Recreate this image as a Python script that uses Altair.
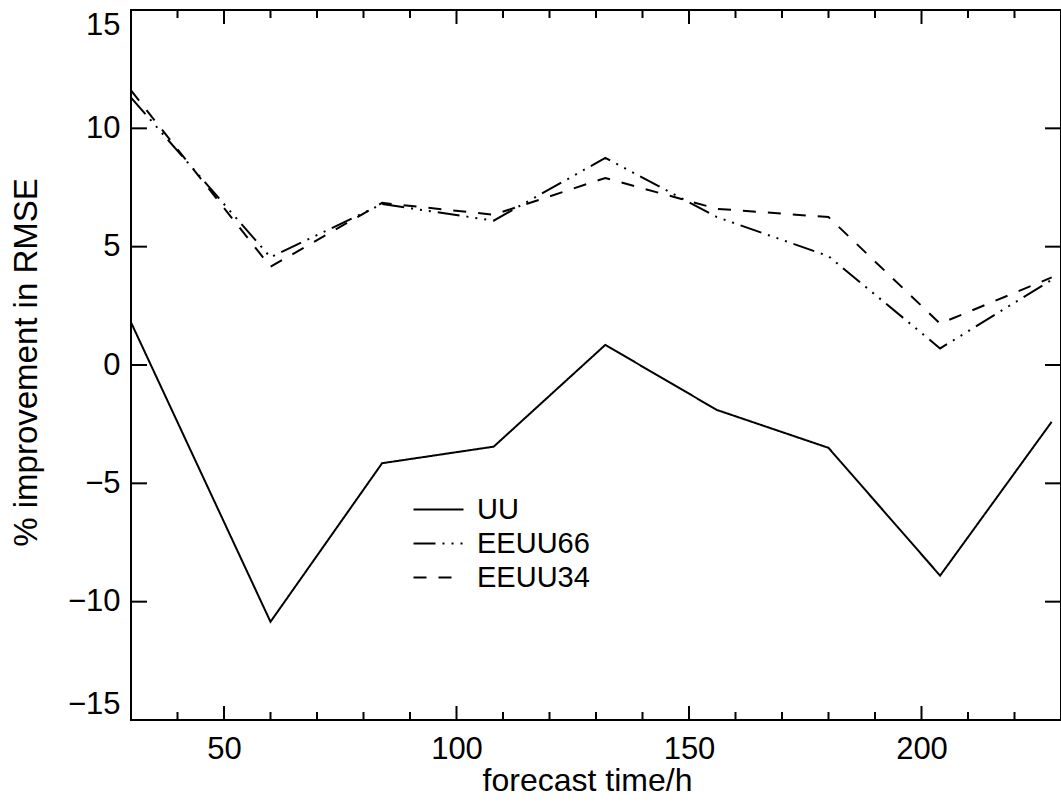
import altair as alt
import pandas as pd

# Forecast lead times (h) and % improvement in RMSE for each experiment
hours = [30, 60, 84, 108, 132, 156, 180, 204, 228]
uu = [1.8, -10.85, -4.15, -3.45, 0.85, -1.9, -3.5, -8.9, -2.4]
eeuu66 = [11.3, 4.55, 6.8, 6.1, 8.75, 6.25, 4.6, 0.7, 3.6]
eeuu34 = [11.6, 4.15, 6.85, 6.35, 7.9, 6.6, 6.25, 1.75, 3.7]

series_names = ["UU", "EEUU66", "EEUU34"]
dash_styles = [[1, 0], [22, 7, 2, 7, 2, 7, 2, 7], [13, 12]]

# Axis tick positions (ticks are drawn inward on all four sides)
x_major = [50, 100, 150, 200]
x_minor = [40, 60, 70, 80, 90, 110, 120, 130, 140, 160, 170, 180, 190, 210, 220]
y_major = [-10, -5, 0, 5, 10]
y_labels = [-15, -10, -5, 0, 5, 10, 15]

W, H = 930, 710
FONT = "Liberation Sans"

rows = []
for name, vals in zip(series_names, [uu, eeuu66, eeuu34]):
    for h, v in zip(hours, vals):
        rows.append({"hour": h, "pct": v, "series": name})
df = pd.DataFrame(rows)

xs = alt.Scale(domain=[30, 230], nice=False, zero=False)
ys = alt.Scale(domain=[-15, 15], nice=False, zero=False)

x_axis = alt.Axis(values=x_major, format="d", title="forecast time/h")
y_axis = alt.Axis(values=y_labels, format="d", title="% improvement in RMSE")

# Legend key: a long horizontal stroke drawn from a compact symbol size
lines = alt.Chart(df).mark_line(color="black", strokeWidth=2).encode(
    x=alt.X("hour:Q", scale=xs, axis=x_axis),
    y=alt.Y("pct:Q", scale=ys, axis=y_axis),
    strokeDash=alt.StrokeDash(
        "series:N",
        scale=alt.Scale(domain=series_names, range=dash_styles),
        legend=alt.Legend(
            title=None, orient="none", legendX=293, legendY=485,
            symbolType="M-2,0H2", symbolSize=625, symbolStrokeWidth=2,
            symbolStrokeColor="black", symbolFillColor="transparent",
            labelFont=FONT, labelFontSize=29,
            labelColor="black", labelOffset=24, rowPadding=4, padding=0,
        ),
    ),
    order="hour:Q",
)


def xticks(values, y0, y1):
    return alt.Chart(pd.DataFrame({"hour": values})).mark_rule(
        color="black", strokeWidth=2
    ).encode(
        x=alt.X("hour:Q", scale=xs, axis=x_axis),
        y=alt.value(y0), y2=alt.value(y1),
    )


def yticks(values, x0, x1):
    return alt.Chart(pd.DataFrame({"pct": values})).mark_rule(
        color="black", strokeWidth=2
    ).encode(
        y=alt.Y("pct:Q", scale=ys, axis=y_axis),
        x=alt.value(x0), x2=alt.value(x1),
    )


chart = alt.layer(
    lines,
    xticks(x_major, H, H - 14), xticks(x_minor, H, H - 8),
    xticks(x_major, 0, 14), xticks(x_minor, 0, 8),
    yticks(y_major, 0, 16), yticks(y_major, W, W - 16),
).properties(
    width=W, height=H,
    autosize=alt.AutoSizeParams(type="none"),
    padding={"left": 131, "top": 10, "right": 0, "bottom": 76},
    background="white",
).configure_view(
    stroke="black", strokeWidth=2
).configure_axis(
    grid=False, domain=False, ticks=False,
    labelFont=FONT, titleFont=FONT, labelColor="black", titleColor="black",
    titleFontWeight="normal",
).configure_axisX(
    labelFontSize=31, labelPadding=14,
    titleFontSize=32, titleX=456, titleY=70, titleBaseline="alphabetic",
).configure_axisY(
    labelFontSize=31, labelPadding=11, labelFlush=True,
    titleFontSize=33, titleX=-95, titleY=352, titleBaseline="alphabetic",
)

chart.save("out.html", embed_options={"renderer": "svg", "actions": False})
